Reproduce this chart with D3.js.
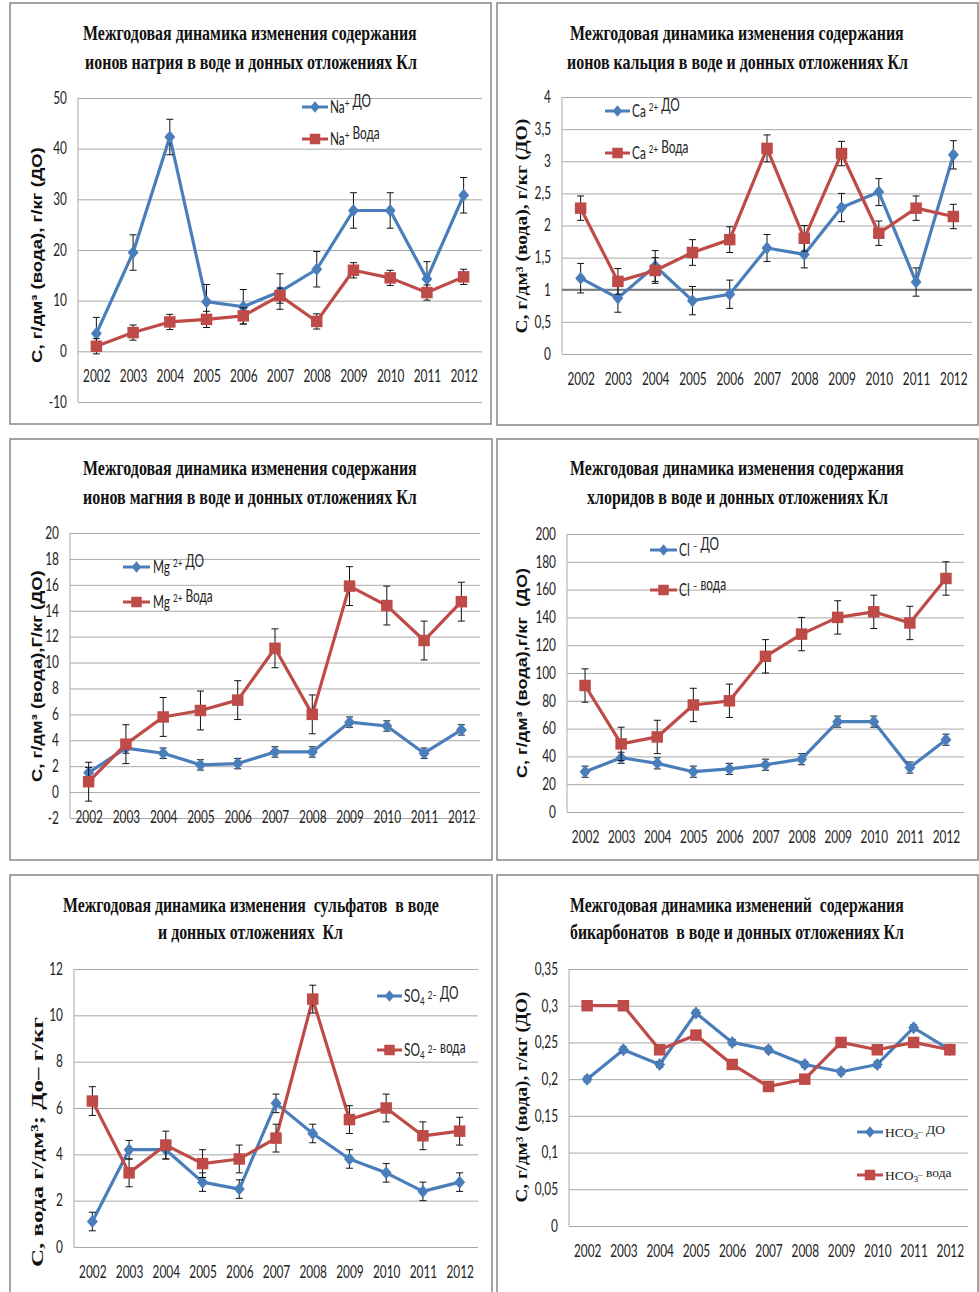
<!DOCTYPE html>
<html>
<head>
<meta charset="utf-8">
<script src="https://cdn.jsdelivr.net/npm/d3@7"></script>
<style>
  body { margin: 0; background: #fff; }
  svg text { white-space: pre; }
</style>
</head>
<body>
<svg id="chart" width="979" height="1292"></svg>
<script>
// ---- data -------------------------------------------------------------
const years = ["2002","2003","2004","2005","2006","2007","2008","2009","2010","2011","2012"];

// sodium
const naDO       = [3.5, 19.5, 42.3, 9.8, 8.8, 11.8, 16.2, 27.8, 27.8, 14.3, 30.8];
const naDOErr    = [3.2, 3.5, 3.5, 3.4, 3.4, 3.5, 3.5, 3.5, 3.5, 3.4, 3.5];
const naWater    = [1.0, 3.7, 5.8, 6.3, 7.0, 11.0, 5.9, 16.0, 14.5, 11.6, 14.7];
const naWaterErr = [1.5, 1.5, 1.5, 1.6, 1.6, 1.5, 1.5, 1.5, 1.5, 1.5, 1.5];
const naTicks    = [-10, 0, 10, 20, 30, 40, 50];

// calcium
const caDO       = [1.18, 0.87, 1.37, 0.83, 0.93, 1.65, 1.55, 2.28, 2.52, 1.12, 3.10];
const caDOErr    = [0.23, 0.22, 0.24, 0.22, 0.22, 0.21, 0.21, 0.22, 0.21, 0.22, 0.22];
const caWater    = [2.27, 1.13, 1.30, 1.58, 1.78, 3.20, 1.80, 3.12, 1.88, 2.27, 2.14];
const caWaterErr = [0.19, 0.2, 0.2, 0.2, 0.2, 0.21, 0.2, 0.19, 0.19, 0.19, 0.19];
const caTicks    = [0, 0.5, 1, 1.5, 2, 2.5, 3, 3.5, 4];

// magnesium
const mgDO       = [1.5, 3.4, 3.0, 2.1, 2.2, 3.1, 3.1, 5.4, 5.1, 3.0, 4.8];
const mgDOErr    = [0.4, 0.4, 0.4, 0.4, 0.4, 0.4, 0.4, 0.4, 0.4, 0.4, 0.4];
const mgWater    = [0.8, 3.7, 5.8, 6.3, 7.1, 11.1, 6.0, 15.9, 14.4, 11.7, 14.7];
const mgWaterErr = [1.5, 1.5, 1.5, 1.5, 1.5, 1.5, 1.5, 1.5, 1.5, 1.5, 1.5];
const mgTicks    = [-2, 0, 2, 4, 6, 8, 10, 12, 14, 16, 18, 20];

// chlorides
const clDO       = [29, 39, 35, 29, 31, 34, 38, 65, 65, 32, 52];
const clDOErr    = [4, 4, 4, 4, 4, 4, 4, 4, 4, 4, 4];
const clWater    = [91, 49, 54, 77, 80, 112, 128, 140, 144, 136, 168];
const clWaterErr = [12, 12, 12, 12, 12, 12, 12, 12, 12, 12, 12];
const clTicks    = [0, 20, 40, 60, 80, 100, 120, 140, 160, 180, 200];

// sulphates
const so4DO       = [1.1, 4.2, 4.2, 2.8, 2.5, 6.2, 4.9, 3.8, 3.2, 2.4, 2.8];
const so4DOErr    = [0.4, 0.4, 0.4, 0.4, 0.4, 0.4, 0.4, 0.4, 0.4, 0.4, 0.4];
const so4Water    = [6.3, 3.2, 4.4, 3.6, 3.8, 4.7, 10.7, 5.5, 6.0, 4.8, 5.0];
const so4WaterErr = [0.62, 0.6, 0.6, 0.6, 0.6, 0.6, 0.6, 0.6, 0.6, 0.6, 0.6];
const so4Ticks    = [0, 2, 4, 6, 8, 10, 12];

// bicarbonates
const hco3DO       = [0.20, 0.24, 0.22, 0.29, 0.25, 0.24, 0.22, 0.21, 0.22, 0.27, 0.24];
const hco3DOErr    = [0.004, 0.004, 0.004, 0.004, 0.004, 0.004, 0.004, 0.004, 0.004, 0.004, 0.004];
const hco3Water    = [0.30, 0.30, 0.24, 0.26, 0.22, 0.19, 0.20, 0.25, 0.24, 0.25, 0.24];
const hco3WaterErr = [0.004, 0.004, 0.004, 0.004, 0.004, 0.004, 0.004, 0.004, 0.004, 0.004, 0.004];
const hco3Ticks    = [0, 0.05, 0.1, 0.15, 0.2, 0.25, 0.3, 0.35];

// ---- styling ------------------------------------------------------------
const BLUE = "#4a7ebb";
const RED = "#be4b48";
const GRID = "#a8a8a8";
const SERIF = "'Liberation Serif', 'Times New Roman', serif";
const SANS = "'Liberation Sans', Arial, sans-serif";
const BODY = "Lato, 'Liberation Sans', sans-serif";
const BODY_SIZE = 16.5;

const fmt = d => String(+d.toFixed(2)).replace(".", ",");

// ---- panel layout -----------------------------------------------------------
const panels = [
  {
    box: [10, 3, 481, 421],
    plot: { x0: 78, x1: 482, yTop: 98, yBot: 402 },
    ticks: naTicks,
    title: [
      { t: "Межгодовая динамика изменения содержания", x0: 83, x1: 417, y: 33 },
      { t: "ионов натрия в воде и донных отложениях Кл", x0: 85, x1: 417, y: 62 }
    ],
    ylab: { t: "С, г/дм³ (вода), г/кг (ДО)", font: SANS, cx: 37, cy: 255, len: 216, size: 15 },
    legend: { lx0: 302, lx1: 328, ys: [107, 139], tx: 330, font: BODY, size: BODY_SIZE, squeeze: true },
    labels: [
      [["Na"], ["+", "sup"], [" ДО"]],
      [["Na"], ["+", "sup"], [" Вода"]]
    ],
    series: [naDO, naWater], errs: [naDOErr, naWaterErr]
  },
  {
    box: [497, 3, 481, 422],
    plot: { x0: 562, x1: 972, yTop: 97, yBot: 354 },
    ticks: caTicks,
    axisAt: 1,
    title: [
      { t: "Межгодовая динамика изменения содержания", x0: 570, x1: 904, y: 33 },
      { t: "ионов кальция в воде и донных отложениях Кл", x0: 567, x1: 908, y: 62 }
    ],
    ylab: { t: "С, г/дм³ (вода), г/кг (ДО)", font: SERIF, cx: 522, cy: 226, len: 215, size: 16 },
    legend: { lx0: 605, lx1: 630, ys: [111, 153], tx: 632, font: BODY, size: BODY_SIZE, squeeze: true },
    labels: [
      [["Са "], ["2+", "sup"], [" ДО"]],
      [["Са "], ["2+", "sup"], [" Вода"]]
    ],
    series: [caDO, caWater], errs: [caDOErr, caWaterErr]
  },
  {
    box: [10, 439, 482, 421],
    plot: { x0: 70, x1: 480, yTop: 533, yBot: 818 },
    ticks: mgTicks,
    title: [
      { t: "Межгодовая динамика изменения содержания", x0: 83, x1: 417, y: 468 },
      { t: "ионов магния в воде и донных отложениях Кл", x0: 83, x1: 417, y: 497 }
    ],
    ylab: { t: "С, г/дм³ (вода),Г/кг (ДО)", font: SANS, cx: 37, cy: 676, len: 212, size: 15 },
    legend: { lx0: 123, lx1: 150, ys: [567, 602], tx: 153, font: BODY, size: BODY_SIZE, squeeze: true },
    labels: [
      [["Mg "], ["2+", "sup"], [" ДО"]],
      [["Mg "], ["2+", "sup"], [" Вода"]]
    ],
    series: [mgDO, mgWater], errs: [mgDOErr, mgWaterErr]
  },
  {
    box: [497, 439, 481, 421],
    plot: { x0: 567, x1: 964, yTop: 534, yBot: 812 },
    ticks: clTicks,
    title: [
      { t: "Межгодовая динамика изменения содержания", x0: 570, x1: 904, y: 468 },
      { t: "хлоридов в воде и донных отложениях Кл", x0: 587, x1: 888, y: 497 }
    ],
    ylab: { t: "С, г/дм³ (вода),г/кг  (ДО)", font: SANS, cx: 522, cy: 673, len: 210, size: 15 },
    legend: { lx0: 650, lx1: 677, ys: [550, 590], tx: 679, font: BODY, size: BODY_SIZE, squeeze: true },
    labels: [
      [["Cl "], ["–", "sup"], [" ДО"]],
      [["Cl "], ["–", "sup"], [" вода"]]
    ],
    series: [clDO, clWater], errs: [clDOErr, clWaterErr]
  },
  {
    box: [10, 875, 482, 440],
    plot: { x0: 74, x1: 478, yTop: 969, yBot: 1247 },
    ticks: so4Ticks,
    title: [
      { t: "Межгодовая динамика изменения  сульфатов  в воде", x0: 63, x1: 439, y: 905 },
      { t: "и донных отложениях  Кл", x0: 158, x1: 343, y: 932 }
    ],
    ylab: { t: "С, вода г/дм³; До– г/кг", font: SERIF, cx: 37, cy: 1142, len: 250, size: 17 },
    legend: { lx0: 377, lx1: 402, ys: [996, 1050], tx: 404, font: BODY, size: BODY_SIZE, squeeze: true },
    labels: [
      [["SO"], ["4", "sub"], [" "], ["2–", "sup"], [" ДО"]],
      [["SO"], ["4", "sub"], [" "], ["2–", "sup"], [" вода"]]
    ],
    series: [so4DO, so4Water], errs: [so4DOErr, so4WaterErr]
  },
  {
    box: [497, 875, 481, 440],
    plot: { x0: 569, x1: 968, yTop: 969, yBot: 1226 },
    ticks: hco3Ticks,
    title: [
      { t: "Межгодовая динамика изменений  содержания", x0: 570, x1: 904, y: 905 },
      { t: "бикарбонатов  в воде и донных отложениях Кл", x0: 570, x1: 904, y: 932 }
    ],
    ylab: { t: "С, г/дм³ (вода), г/кг (ДО)", font: SERIF, cx: 522, cy: 1097, len: 211, size: 16 },
    legend: { lx0: 857, lx1: 883, ys: [1132, 1175], tx: 885, font: SERIF, size: 13.5, squeeze: false },
    labels: [
      [["HCO"], ["3", "sub"], ["–", "sup"], [" ДО"]],
      [["HCO"], ["3", "sub"], ["–", "sup"], [" вода"]]
    ],
    series: [hco3DO, hco3Water], errs: [hco3DOErr, hco3WaterErr]
  }
];

// ---- marker shapes ---------------------------------------------------------
const diamond = {
  draw(ctx, size) {
    const w = Math.sqrt(size) * 0.52, h = Math.sqrt(size) * 0.62;
    ctx.moveTo(0, -h); ctx.lineTo(w, 0); ctx.lineTo(0, h); ctx.lineTo(-w, 0); ctx.closePath();
  }
};
const markerPath = [
  d3.symbol().type(diamond).size(110)(),
  d3.symbol().type(d3.symbolSquare).size(132)()
];
const colors = [BLUE, RED];

const svg = d3.select("#chart");

// horizontal squeeze that narrows the body font to a condensed look
const probe = svg.append("text").attr("font-family", BODY).attr("font-size", BODY_SIZE).text("2002");
const SQUEEZE = 27.5 / probe.node().getComputedTextLength();
probe.remove();

// place a text so that its rendered width spans exactly x0..x1
function fitWidth(textSel, x0, x1, y) {
  const w = textSel.node().getComputedTextLength();
  textSel.attr("x", 0).attr("y", 0)
    .attr("transform", `translate(${x0},${y}) scale(${(x1 - x0) / w},1)`);
}

function richText(sel, parts, size) {
  parts.forEach(([txt, kind]) => {
    const ts = sel.append("tspan").text(txt);
    if (kind === "sup") ts.attr("font-size", size * 0.68).attr("dy", -size * 0.38);
    else if (kind === "sub") ts.attr("font-size", size * 0.68).attr("dy", size * 0.2);
    if (kind === "sup") sel.append("tspan").attr("dy", size * 0.38).text("");
    if (kind === "sub") sel.append("tspan").attr("dy", -size * 0.2).text("");
  });
}

panels.forEach(p => {
  const g = svg.append("g");
  const { x0, x1, yTop, yBot } = p.plot;

  // frame
  g.append("rect")
    .attr("x", p.box[0]).attr("y", p.box[1])
    .attr("width", p.box[2]).attr("height", p.box[3])
    .attr("fill", "#fff").attr("stroke", "#8e8e8e").attr("stroke-width", 1.6);

  const x = d3.scalePoint().domain(years).range([x0, x1]).padding(0.5);
  const y = d3.scaleLinear().domain(d3.extent(p.ticks)).range([yBot, yTop]);

  // gridlines + value axis
  const yAxis = d3.axisLeft(y).tickValues(p.ticks).tickFormat(fmt)
    .tickSize(-(x1 - x0)).tickPadding(12);
  const ya = g.append("g").attr("transform", `translate(${x0},0)`).call(yAxis);
  ya.select(".domain").attr("stroke", GRID).attr("d", `M0,${yTop}V${yBot}`);
  ya.selectAll(".tick line").attr("stroke", GRID).attr("stroke-width", 1);
  ya.selectAll(".tick text")
    .attr("font-family", BODY).attr("font-size", BODY_SIZE).attr("fill", "#222")
    .attr("x", -11 / SQUEEZE)
    .attr("transform", `scale(${SQUEEZE},1)`);
  if (p.axisAt !== undefined) {
    g.append("line").attr("x1", x0).attr("x2", x1)
      .attr("y1", y(p.axisAt)).attr("y2", y(p.axisAt))
      .attr("stroke", "#7a7a7a").attr("stroke-width", 1.8);
  }

  // category labels, placed below the zero line
  const xAxis = d3.axisBottom(x).tickSize(0).tickPadding(0);
  const xa = g.append("g").attr("transform", `translate(0,${y(0) + 19})`).call(xAxis);
  xa.select(".domain").remove();
  xa.selectAll(".tick text")
    .attr("font-family", BODY).attr("font-size", BODY_SIZE).attr("fill", "#222")
    .attr("transform", `scale(${SQUEEZE},1)`);

  // titles
  p.title.forEach(l => {
    const t = g.append("text")
      .attr("dominant-baseline", "central")
      .attr("font-family", SERIF).attr("font-weight", "bold").attr("font-size", 22)
      .attr("fill", "#111")
      .text(l.t);
    fitWidth(t, l.x0, l.x1, l.y);
  });

  // value-axis title
  const yl = p.ylab;
  const ylt = g.append("text")
    .attr("dominant-baseline", "central")
    .attr("font-family", yl.font).attr("font-weight", "bold").attr("font-size", yl.size)
    .attr("fill", "#111")
    .text(yl.t);
  const yw = ylt.node().getComputedTextLength();
  ylt.attr("x", 0).attr("y", 0)
    .attr("transform", `translate(${yl.cx},${yl.cy + yl.len / 2}) rotate(-90) scale(${yl.len / yw},1)`);

  // series: line, error bars, markers
  p.series.forEach((vals, si) => {
    const errs = p.errs[si];
    const pts = years.map((yr, i) => ({ yr, v: vals[i], e: errs[i] }));
    const sg = g.append("g");

    sg.append("path")
      .datum(pts)
      .attr("fill", "none").attr("stroke", colors[si]).attr("stroke-width", 3.2)
      .attr("stroke-linejoin", "round")
      .attr("d", d3.line().x(d => x(d.yr)).y(d => y(d.v)));

    const eb = sg.selectAll(".err").data(pts).enter().append("g")
      .attr("stroke", "#111").attr("stroke-width", 1);
    eb.append("line")
      .attr("x1", d => x(d.yr)).attr("x2", d => x(d.yr))
      .attr("y1", d => y(d.v - d.e)).attr("y2", d => y(d.v + d.e));
    eb.append("line")
      .attr("x1", d => x(d.yr) - 3.5).attr("x2", d => x(d.yr) + 3.5)
      .attr("y1", d => y(d.v + d.e)).attr("y2", d => y(d.v + d.e));
    eb.append("line")
      .attr("x1", d => x(d.yr) - 3.5).attr("x2", d => x(d.yr) + 3.5)
      .attr("y1", d => y(d.v - d.e)).attr("y2", d => y(d.v - d.e));

    sg.selectAll(".mk").data(pts).enter().append("path")
      .attr("transform", d => `translate(${x(d.yr)},${y(d.v)})`)
      .attr("d", markerPath[si])
      .attr("fill", colors[si]);
  });

  // legend
  const lg = p.legend;
  p.labels.forEach((parts, li) => {
    const ly = lg.ys[li];
    g.append("line")
      .attr("x1", lg.lx0).attr("x2", lg.lx1).attr("y1", ly).attr("y2", ly)
      .attr("stroke", colors[li]).attr("stroke-width", 3);
    g.append("path")
      .attr("transform", `translate(${(lg.lx0 + lg.lx1) / 2},${ly})`)
      .attr("d", li === 0 ? d3.symbol().type(diamond).size(85)() : d3.symbol().type(d3.symbolSquare).size(110)())
      .attr("fill", colors[li]);
    const t = g.append("text")
      .attr("x", 0).attr("y", 0)
      .attr("transform", `translate(${lg.tx},${ly + lg.size * 0.35}) scale(${lg.squeeze ? SQUEEZE : 1},1)`)
      .attr("font-family", lg.font).attr("font-size", lg.size).attr("fill", "#222");
    richText(t, parts, lg.size);
  });
});
</script>
</body>
</html>
